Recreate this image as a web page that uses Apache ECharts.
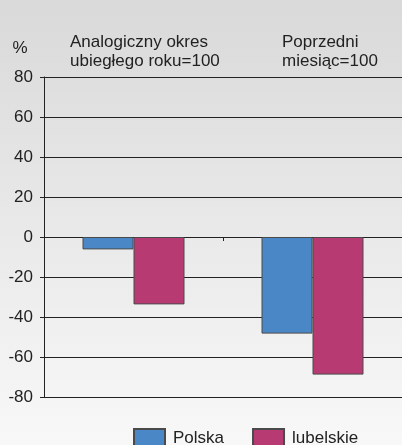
<!DOCTYPE html>
<html><head><meta charset="utf-8">
<script src="https://cdn.jsdelivr.net/npm/echarts@6/dist/echarts.min.js"></script>
<style>html,body{margin:0;padding:0;}#c{width:402px;height:445px;}</style>
</head><body><div id="c"></div>
<script>
const categories = ['Analogiczny okres\nubiegłego roku=100', 'Poprzedni\nmiesiąc=100'];
const polska = [-6.2, -48.3];
const lubelskie = [-33.7, -68.8];
const seriesNames = ['Polska', 'lubelskie'];
const yTicks = { min: -80, max: 80, interval: 20 };

const chart = echarts.init(document.getElementById('c'), null, { renderer: 'canvas' });
const font = 'Liberation Sans, Arial, sans-serif';
chart.setOption({
  animation: false,
  backgroundColor: { type: 'linear', x: 0, y: 0, x2: 0, y2: 1, colorStops: [
    { offset: 0, color: '#d9d9d9' }, { offset: 1, color: '#f8f8f8' }] },
  textStyle: { fontFamily: font },
  grid: { left: 44, right: 0, top: 77, bottom: 48, containLabel: false },
  graphic: [
    { type: 'text', left: 70, top: 33, style: { text: categories[0], font: '17px ' + font, fill: '#222', lineHeight: 19 } },
    { type: 'text', left: 282, top: 33, style: { text: categories[1], font: '17px ' + font, fill: '#222', lineHeight: 19 } }
  ],
  legend: {
    data: seriesNames, bottom: -9, left: 128, itemWidth: 31, itemHeight: 19, itemGap: 28,
    icon: 'rect',
    textStyle: { fontSize: 17, color: '#222', fontFamily: font, padding: [0, 0, 0, 3] }
  },
  xAxis: {
    type: 'category', data: categories,
    axisLine: { onZero: true, lineStyle: { color: '#222', width: 1 } },
    axisTick: { show: true, length: 4, lineStyle: { color: '#222' } },
    axisLabel: { show: false },
    splitLine: { show: false }
  },
  yAxis: {
    type: 'value', min: yTicks.min, max: yTicks.max, interval: yTicks.interval,
    name: '%', nameLocation: 'end', nameGap: 20,
    nameTextStyle: { fontSize: 17, color: '#222', padding: [0, 48, 0, 0], fontFamily: font },
    axisLine: { show: true, lineStyle: { color: '#222', width: 1 } },
    axisTick: { show: true, length: 4, lineStyle: { color: '#222' } },
    axisLabel: { fontSize: 17, color: '#222', margin: 11, fontFamily: font },
    splitLine: { show: true, lineStyle: { color: '#222', width: 1 } }
  },
  series: [
    { name: seriesNames[0], type: 'bar', data: polska, barWidth: 51, barGap: '0%',
      itemStyle: { color: '#4a87c7', borderColor: '#4a4a4a', borderWidth: 1 } },
    { name: seriesNames[1], type: 'bar', data: lubelskie, barWidth: 51, barGap: '0%',
      itemStyle: { color: '#b73a73', borderColor: '#4a4a4a', borderWidth: 1 } }
  ]
});
</script></body></html>
